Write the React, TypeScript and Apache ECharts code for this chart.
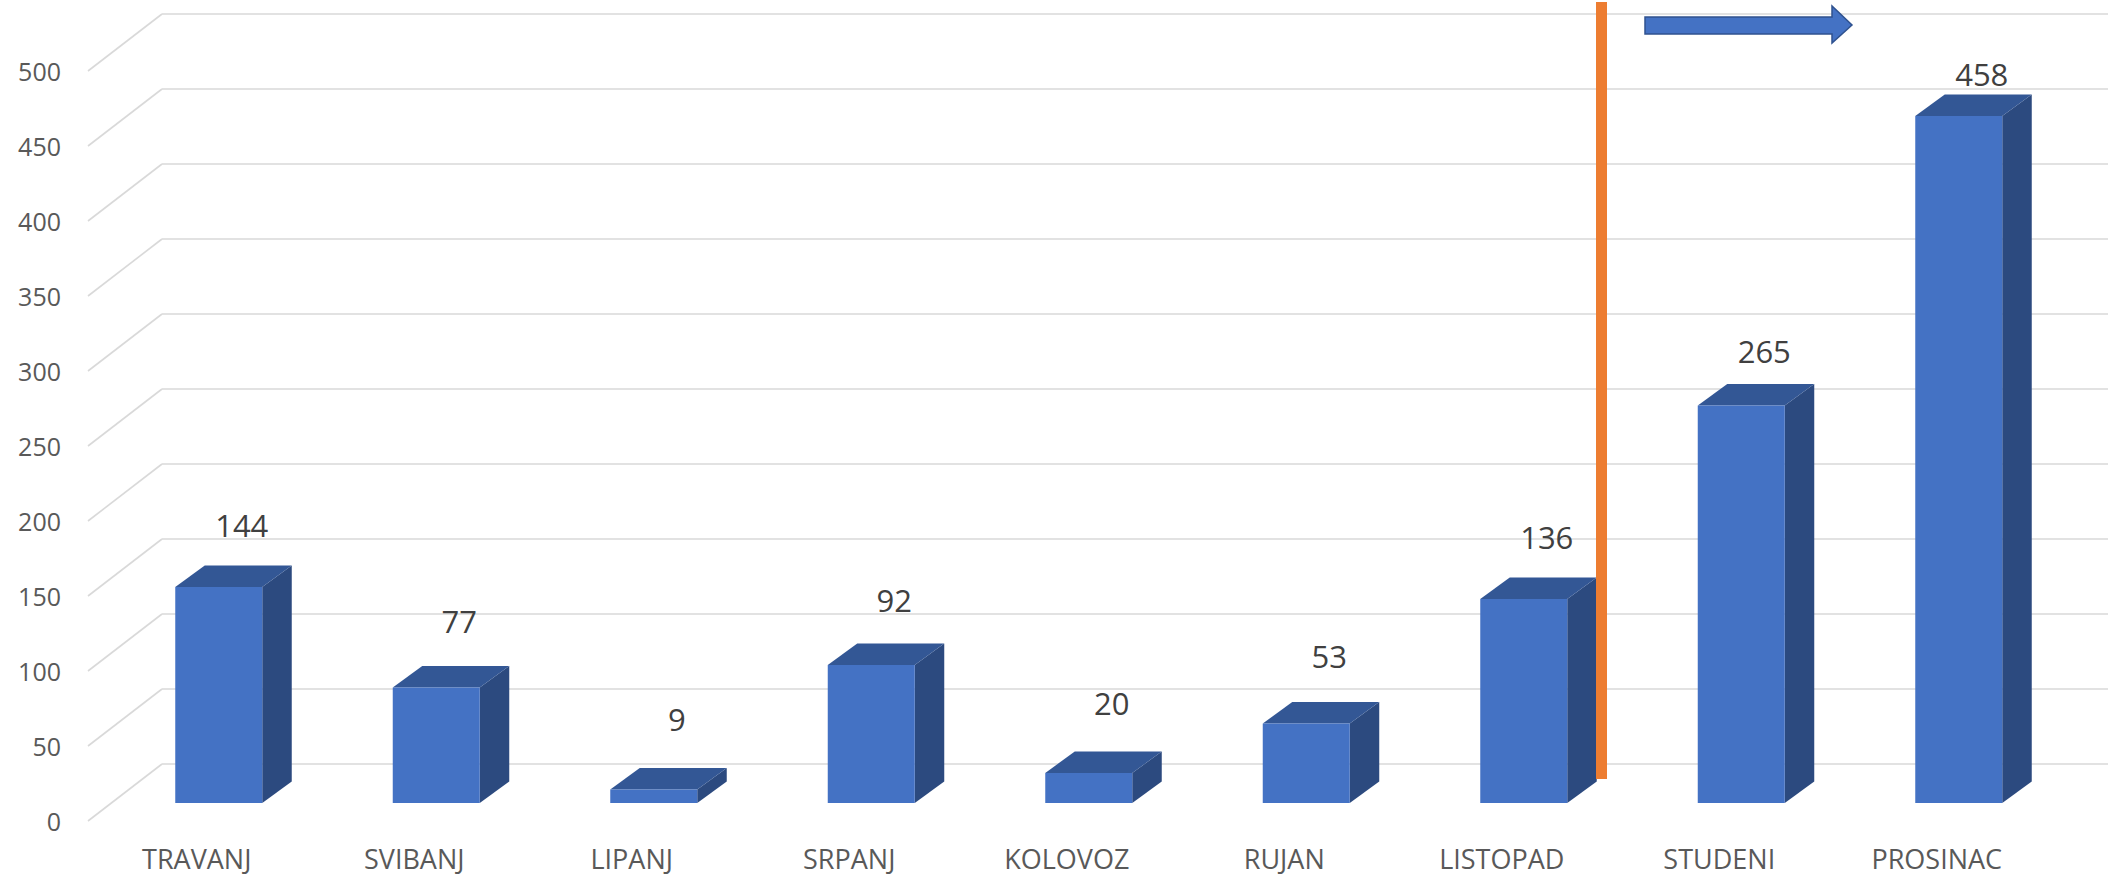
import React, { useEffect, useRef } from "react";
import * as echarts from "echarts";

const categories = ["TRAVANJ", "SVIBANJ", "LIPANJ", "SRPANJ", "KOLOVOZ", "RUJAN", "LISTOPAD", "STUDENI", "PROSINAC"];
const values = [144, 77, 9, 92, 20, 53, 136, 265, 458];
const yTicks = [0, 50, 100, 150, 200, 250, 300, 350, 400, 450, 500];

const FONT = "'Open Sans', 'Noto Sans', sans-serif";
const GRID_COLOR = "#D9D9D9";

export default function App() {
  const ref = useRef<HTMLDivElement>(null);

  useEffect(() => {
    if (!ref.current) return;
    const chart = echarts.init(ref.current, undefined, { renderer: "svg" });

    const option: any = {
      animation: false,
      backgroundColor: "#ffffff",
      grid: [
        // front plane (axis labels)
        { left: 88, top: 71, width: 1957.5, height: 750 },
        // back wall (gridlines)
        { left: 162, top: 14, width: 1990, height: 750 },
        // bar plane
        { left: 110, top: 53, width: 1957.5, height: 750 },
      ],
      xAxis: [
        {
          gridIndex: 0,
          type: "category",
          data: categories,
          axisLine: { show: false },
          axisTick: { show: false },
          axisLabel: {
            margin: 24,
            lineHeight: 27,
            fontSize: 27,
            color: "#595959",
            fontFamily: FONT,
            interval: 0,
          },
          splitLine: { show: false },
        },
        { gridIndex: 1, type: "category", data: categories, show: false },
        { gridIndex: 2, type: "category", data: categories, show: false },
      ],
      yAxis: [
        {
          gridIndex: 0,
          type: "value",
          min: 0,
          max: 500,
          interval: 50,
          axisLine: { show: false },
          axisTick: { show: false },
          splitLine: { show: false },
          axisLabel: { margin: 27, fontSize: 25, color: "#595959", fontFamily: FONT },
        },
        {
          gridIndex: 1,
          type: "value",
          min: 0,
          max: 500,
          interval: 50,
          axisLine: { show: false },
          axisTick: { show: false },
          axisLabel: { show: false },
          splitLine: { show: true, lineStyle: { color: GRID_COLOR, width: 1.6 } },
        },
        { gridIndex: 2, type: "value", min: 0, max: 500, interval: 50, show: false },
      ],
      series: [
        {
          type: "custom",
          name: "diagonals",
          xAxisIndex: 0,
          yAxisIndex: 0,
          silent: true,
          data: yTicks.map((v) => [0, v]),
          encode: { x: 0, y: 1 },
          renderItem: (params: any, api: any) => {
            const p = api.coord([0, api.value(1)]);
            const x0 = params.coordSys.x;
            return {
              type: "line",
              shape: { x1: x0, y1: p[1], x2: x0 + 74, y2: p[1] - 57 },
              style: { stroke: GRID_COLOR, lineWidth: 1.6 },
            };
          },
        },
        {
          type: "custom",
          name: "bars",
          xAxisIndex: 2,
          yAxisIndex: 2,
          data: values.map((v, i) => [i, v]),
          encode: { x: 0, y: 1 },
          renderItem: (params: any, api: any) => {
            const i = api.value(0);
            const v = api.value(1);
            const top = api.coord([i, v]);
            const base = api.coord([i, 0]);
            const hw = 43.5;
            const dx = 29.5;
            const dy = 21.5;
            const xL = top[0] - hw;
            const xR = top[0] + hw;
            const yT = top[1];
            const yB = base[1];
            const labelY = yT - 71 + 0.0423 * (yB - yT);
            return {
              type: "group",
              children: [
                {
                  type: "polygon",
                  shape: {
                    points: [
                      [xR, yB],
                      [xR + dx, yB - dy],
                      [xR + dx, yT - dy],
                      [xR, yT],
                    ],
                  },
                  style: { fill: "#2C4A7F" },
                },
                {
                  type: "polygon",
                  shape: {
                    points: [
                      [xL, yT],
                      [xL + dx, yT - dy],
                      [xR + dx, yT - dy],
                      [xR, yT],
                    ],
                  },
                  style: { fill: "#335795" },
                },
                {
                  type: "rect",
                  shape: { x: xL, y: yT, width: xR - xL, height: yB - yT },
                  style: { fill: "#4472C4" },
                },
                {
                  type: "text",
                  x: top[0] + 23,
                  y: labelY,
                  style: {
                    text: String(v),
                    fontSize: 31,
                    fontFamily: FONT,
                    fill: "#404040",
                    align: "center",
                    verticalAlign: "middle",
                  },
                },
              ],
            };
          },
        },
      ],
      graphic: [
        {
          type: "rect",
          shape: { x: 1596, y: 2, width: 11, height: 777 },
          style: { fill: "#ED7D31" },
          z: 10,
        },
        {
          type: "polygon",
          shape: {
            points: [
              [1645, 17],
              [1832, 17],
              [1832, 6],
              [1852, 25],
              [1832, 43],
              [1832, 34],
              [1645, 34],
            ],
          },
          style: { fill: "#4472C4", stroke: "#2F528F", lineWidth: 1.5 },
          z: 10,
        },
      ],
    };

    chart.setOption(option);
    return () => chart.dispose();
  }, []);

  return (
    <div
      ref={ref}
      style={{ position: "fixed", left: 0, top: 0, width: 2108, height: 877, background: "#fff" }}
    />
  );
}
